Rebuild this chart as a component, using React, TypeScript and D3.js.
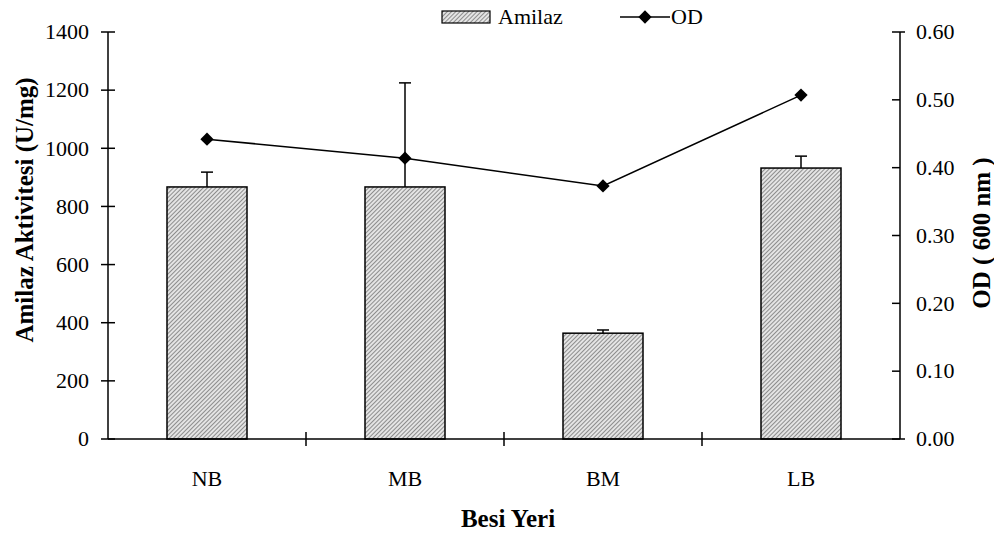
import React, { useEffect, useRef } from 'react';
import * as d3 from 'd3';

const categories = ['NB', 'MB', 'BM', 'LB'];
const amilaz = [867, 867, 364, 932];
const amilazErr = [51, 358, 11, 41];
const od = [0.442, 0.414, 0.373, 0.507];
const leftTicks = [0, 200, 400, 600, 800, 1000, 1200, 1400];
const rightTicks = [0, 0.1, 0.2, 0.3, 0.4, 0.5, 0.6];

const App = () => {
  const svgRef = useRef<SVGSVGElement>(null);

  useEffect(() => {
    const svg = d3.select(svgRef.current);
    svg.selectAll('*').remove();

    const width = 994;
    const height = 536;
    const left = 108, right = 900, top = 32, bottom = 439;
    const font = '"Liberation Serif", "Times New Roman", serif';
    const fs = '22px';
    const tfs = '25px';

    // hatch pattern for the bars
    const defs = svg.append('defs');
    const pat = defs.append('pattern')
      .attr('id', 'hatch')
      .attr('patternUnits', 'userSpaceOnUse')
      .attr('width', 3)
      .attr('height', 3)
      .attr('patternTransform', 'rotate(45)');
    pat.append('rect').attr('width', 3).attr('height', 3).attr('fill', '#e4e4e4');
    pat.append('line')
      .attr('x1', 0).attr('y1', 0).attr('x2', 0).attr('y2', 3)
      .attr('stroke', '#707070').attr('stroke-width', 1.5);

    const x = d3.scaleBand().domain(categories).range([left, right]);
    const y = d3.scaleLinear().domain([0, 1400]).range([bottom, top]);
    const y2 = d3.scaleLinear().domain([0, 0.6]).range([bottom, top]);
    const barW = 80;

    // bars
    svg.selectAll('.bar')
      .data(categories)
      .enter().append('rect')
      .attr('x', d => x(d)! + x.bandwidth() / 2 - barW / 2)
      .attr('y', (d, i) => y(amilaz[i]))
      .attr('width', barW)
      .attr('height', (d, i) => bottom - y(amilaz[i]))
      .attr('fill', 'url(#hatch)')
      .attr('stroke', '#000')
      .attr('stroke-width', 1.5);

    // error bars (upper only)
    categories.forEach((c, i) => {
      const cx = x(c)! + x.bandwidth() / 2;
      svg.append('line')
        .attr('x1', cx).attr('x2', cx)
        .attr('y1', y(amilaz[i])).attr('y2', y(amilaz[i] + amilazErr[i]))
        .attr('stroke', '#000').attr('stroke-width', 1.5);
      svg.append('line')
        .attr('x1', cx - 6).attr('x2', cx + 6)
        .attr('y1', y(amilaz[i] + amilazErr[i])).attr('y2', y(amilaz[i] + amilazErr[i]))
        .attr('stroke', '#000').attr('stroke-width', 1.5);
    });

    // axes
    const axisColor = '#000';
    svg.append('line').attr('x1', left).attr('x2', right).attr('y1', bottom).attr('y2', bottom)
      .attr('stroke', axisColor).attr('stroke-width', 1.5);
    svg.append('line').attr('x1', left).attr('x2', left).attr('y1', top).attr('y2', bottom)
      .attr('stroke', axisColor).attr('stroke-width', 1.5);
    svg.append('line').attr('x1', right).attr('x2', right).attr('y1', top).attr('y2', bottom)
      .attr('stroke', axisColor).attr('stroke-width', 1.5);

    // category separators
    categories.slice(1).forEach(c => {
      svg.append('line')
        .attr('x1', x(c)).attr('x2', x(c))
        .attr('y1', bottom - 7).attr('y2', bottom + 7)
        .attr('stroke', axisColor).attr('stroke-width', 1.5);
    });

    // left ticks
    leftTicks.forEach(t => {
      svg.append('line')
        .attr('x1', left - 7).attr('x2', left + 7)
        .attr('y1', y(t)).attr('y2', y(t))
        .attr('stroke', axisColor).attr('stroke-width', 1.5);
      svg.append('text')
        .attr('x', left - 19).attr('y', y(t))
        .attr('dy', '0.33em')
        .attr('text-anchor', 'end')
        .style('font-family', font).style('font-size', fs)
        .text(t);
    });

    // right ticks
    rightTicks.forEach(t => {
      svg.append('line')
        .attr('x1', right - 8).attr('x2', right + (t === 0.6 || t === 0 ? 5 : 0))
        .attr('y1', y2(t)).attr('y2', y2(t))
        .attr('stroke', axisColor).attr('stroke-width', 1.5);
      svg.append('text')
        .attr('x', right + 16).attr('y', y2(t))
        .attr('dy', '0.33em')
        .attr('text-anchor', 'start')
        .style('font-family', font).style('font-size', fs)
        .text(t.toFixed(2));
    });

    // category labels
    svg.selectAll('.cat')
      .data(categories)
      .enter().append('text')
      .attr('x', d => x(d)! + x.bandwidth() / 2)
      .attr('y', 486)
      .attr('text-anchor', 'middle')
      .style('font-family', font).style('font-size', fs)
      .text(d => d);

    // OD line
    const line = d3.line<number>()
      .x((d, i) => x(categories[i])! + x.bandwidth() / 2)
      .y(d => y2(d));
    svg.append('path')
      .datum(od)
      .attr('d', line)
      .attr('fill', 'none')
      .attr('stroke', '#000')
      .attr('stroke-width', 1.5);

    const diamond = d3.symbol().type(d3.symbolSquare).size(88);
    svg.selectAll('.pt')
      .data(od)
      .enter().append('path')
      .attr('d', diamond)
      .attr('transform', (d, i) => `translate(${x(categories[i])! + x.bandwidth() / 2},${y2(d)}) rotate(45)`)
      .attr('fill', '#000');

    // axis titles
    svg.append('text')
      .attr('transform', `translate(33,210) rotate(-90)`)
      .attr('text-anchor', 'middle')
      .style('font-family', font).style('font-size', tfs).style('font-weight', 'bold')
      .text('Amilaz Aktivitesi (U/mg)');

    svg.append('text')
      .attr('transform', `translate(990,233) rotate(-90)`)
      .attr('text-anchor', 'middle')
      .style('font-family', font).style('font-size', tfs).style('font-weight', 'bold')
      .text('OD ( 600 nm )');

    svg.append('text')
      .attr('x', 508).attr('y', 527)
      .attr('text-anchor', 'middle')
      .style('font-family', font).style('font-size', tfs).style('font-weight', 'bold')
      .text('Besi Yeri');

    // legend
    svg.append('rect')
      .attr('x', 442).attr('y', 11).attr('width', 48).attr('height', 12)
      .attr('fill', 'url(#hatch)').attr('stroke', '#000').attr('stroke-width', 1.2);
    svg.append('text')
      .attr('x', 498).attr('y', 17).attr('dy', '0.33em')
      .style('font-family', font).style('font-size', fs)
      .text('Amilaz');
    svg.append('line')
      .attr('x1', 620).attr('x2', 670).attr('y1', 17).attr('y2', 17)
      .attr('stroke', '#000').attr('stroke-width', 1.5);
    svg.append('path')
      .attr('d', diamond)
      .attr('transform', 'translate(645,17) rotate(45)')
      .attr('fill', '#000');
    svg.append('text')
      .attr('x', 671).attr('y', 17).attr('dy', '0.33em')
      .style('font-family', font).style('font-size', fs)
      .text('OD');

    svg.attr('width', width).attr('height', height);
  }, []);

  return (
    <div style={{ position: 'fixed', left: 0, top: 0, width: 994, height: 536, background: 'white' }}>
      <svg ref={svgRef} style={{ display: 'block' }} />
    </div>
  );
};

export default App;
